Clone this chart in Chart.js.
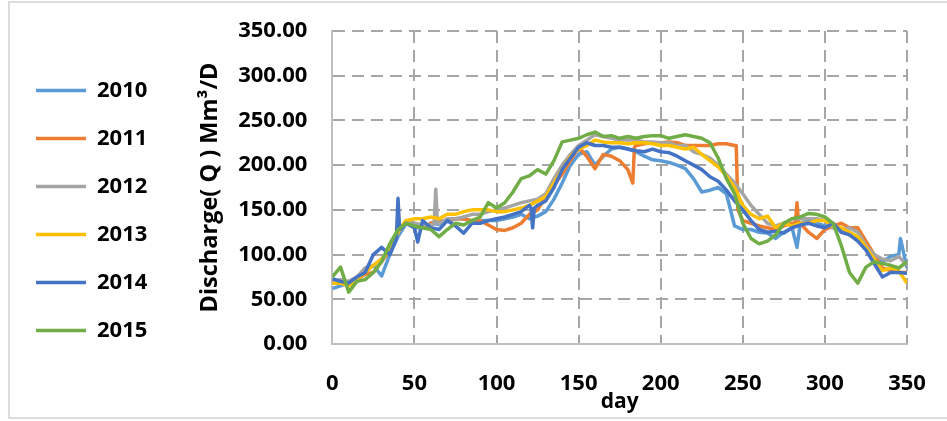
<!DOCTYPE html>
<html><head><meta charset="utf-8">
<script src="https://cdn.jsdelivr.net/npm/chart.js@4"></script>
<style>
html,body{margin:0;padding:0;background:#fff;}
#wrap{position:relative;width:947px;height:421px;overflow:hidden;}
#frame{position:absolute;left:8px;top:1px;width:960px;height:418px;border:2px solid #dcdcdc;box-sizing:border-box;}
canvas{position:absolute;left:0;top:0;}
</style></head><body>
<div id="wrap"><div id="frame"></div><canvas id="c" width="947" height="421"></canvas></div>
<script>
const days = [0,5,10,15,20,25,30,35,40,45,50,55,60,65,70,75,80,85,90,95,100,105,110,115,120,125,130,135,140,145,150,155,160,165,170,175,180,185,190,195,200,205,210,215,220,225,230,235,240,245,250,255,260,265,270,275,280,285,290,295,300,305,310,315,320,325,330,335,340,345,350];
const q2010 = [62,65,68,70,80,88,76,100,120,135,130,130,135,134,137,140,140,137,138,138,138,140,142,145,140,143,148,162,180,200,212,215,200,210,218,220,218,215,210,206,205,203,200,196,185,170,172,175,168,132,128,128,125,124,118,125,130,135,138,135,132,130,128,125,118,110,100,92,98,100,85];
const q2011 = [70,68,67,72,78,80,92,105,125,138,132,130,135,137,138,140,140,138,138,133,128,127,130,135,145,150,165,178,190,205,220,210,196,212,210,205,195,222,224,225,225,226,225,222,222,222,222,224,224,222,138,135,132,130,128,132,135,135,125,118,128,132,135,130,130,115,100,85,82,80,80];
const q2012 = [70,72,70,75,85,88,95,105,125,138,135,133,133,135,140,140,142,145,145,148,150,152,155,158,160,162,168,185,200,212,222,228,234,232,230,228,228,228,226,226,225,225,222,222,215,212,208,200,190,180,168,155,145,135,132,135,140,140,140,140,138,130,128,130,125,110,100,95,93,98,88];
const q2013 = [68,68,65,72,80,88,95,105,125,138,140,140,142,140,145,145,148,150,150,150,148,148,150,152,155,160,165,180,195,210,218,222,228,226,225,225,224,225,225,224,222,222,220,218,220,212,205,198,188,175,155,145,140,143,130,135,132,135,135,138,138,132,130,125,120,108,95,82,85,82,68];
const q2014 = [73,70,68,75,80,100,108,100,163,135,130,138,130,128,138,132,124,135,135,138,140,142,145,148,155,155,160,175,195,208,220,225,222,222,220,220,218,216,215,218,215,214,210,205,200,195,187,182,172,160,150,138,128,125,126,124,130,133,135,132,130,135,125,122,115,105,90,75,80,80,79];
const q2015 = [75,86,58,70,72,80,92,112,128,135,132,130,128,120,128,135,133,138,142,158,152,158,170,185,188,195,190,205,226,228,230,234,237,232,233,230,232,230,232,233,233,230,232,234,232,230,225,208,185,168,135,118,112,115,122,135,140,142,146,145,142,135,110,80,68,86,92,90,88,85,92];
const extra2010 = [[283,108],[346,118]];
const extra2011 = [[183,180],[184,220],[246,222],[247,150],[282,135],[283,158],[284,135]];
const extra2012 = [[62,134],[63,173],[64,135]];
const extra2013 = [];
const extra2014 = [[39,118],[41,128],[52,114],[121,152],[122,130],[123,152]];
const extra2015 = [];
const seriesNames = ['2010','2011','2012','2013','2014','2015'];
const seriesColors = ['#5B9BD5','#ED7D31','#A5A5A5','#FFC000','#4472C4','#70AD47'];
const yTicks = [0,50,100,150,200,250,300,350];
const xTicks = [0,50,100,150,200,250,300,350];

function build(vals, extra){
  const pts = days.map((d,i)=>({x:d,y:vals[i]}));
  extra.forEach(p=>pts.push({x:p[0],y:p[1]}));
  pts.sort((a,b)=>a.x-b.x);
  return pts;
}
const allVals = [q2010,q2011,q2012,q2013,q2014,q2015];
const allExtra = [extra2010,extra2011,extra2012,extra2013,extra2014,extra2015];
const FONT = 'Open Sans';
const datasets = seriesNames.map((n,i)=>({
  label:n, data:build(allVals[i],allExtra[i]),
  borderColor:seriesColors[i], backgroundColor:seriesColors[i],
  borderWidth:3.5, pointRadius:0, tension:0, order:5-i, borderJoinStyle:'round'
}));
const gridColor = '#A6A6A6';
const chart = new Chart(document.getElementById('c'),{
  type:'line',
  data:{datasets},
  options:{
    responsive:false, animation:false, devicePixelRatio:1,
    layout:{padding:{left:10,top:31,right:40,bottom:0}},
    plugins:{
      legend:{position:'left',align:'start',
        title:{display:true,text:' ',font:{size:10,lineHeight:1.2},padding:{top:0,bottom:10.5}},
        labels:{usePointStyle:true,pointStyle:'line',pointStyleWidth:50,boxHeight:4,padding:26,color:'#000',
          sort:(a,b)=>a.datasetIndex-b.datasetIndex,
          font:{family:FONT,size:22,weight:'bold'}}},
      tooltip:{enabled:false}
    },
    scales:{
      x:{type:'linear',min:0,max:350,
        afterBuildTicks:s=>{s.ticks=xTicks.map(v=>({value:v}));},
        afterFit:s=>{s.height=77;s.paddingLeft=0;s.paddingRight=0;},
        ticks:{padding:27,color:'#000',maxRotation:0,font:{family:FONT,size:22,weight:'bold'}},
        grid:{drawTicks:false,lineWidth:2,color:c=>c.tick&&c.tick.value===0?'rgba(0,0,0,0)':gridColor},
        border:{display:true,color:'#BFBFBF',width:2,dash:[12,7]},
        title:{display:true,text:'day',color:'#000',padding:{top:0,bottom:6},font:{family:FONT,size:21,weight:'bold'}}
      },
      y:{min:0,max:350,
        afterBuildTicks:s=>{s.ticks=yTicks.map(v=>({value:v}));},
        afterFit:s=>{s.width=175;s.paddingTop=0;s.paddingBottom=0;},
        ticks:{padding:25,color:'#000',callback:v=>Number(v).toFixed(2),font:{family:FONT,size:22,weight:'bold'}},
        grid:{drawTicks:false,lineWidth:2,color:c=>c.tick&&c.tick.value===0?'rgba(0,0,0,0)':gridColor},
        border:{display:true,color:'#BFBFBF',width:2,dash:[12,7]},
        title:{display:true,text:'Discharge( Q ) Mm³/D',color:'#000',padding:{top:39,bottom:0},font:{family:FONT,size:23.5,weight:'bold'}}
      }
    }
  }
});
</script>
</body></html>
